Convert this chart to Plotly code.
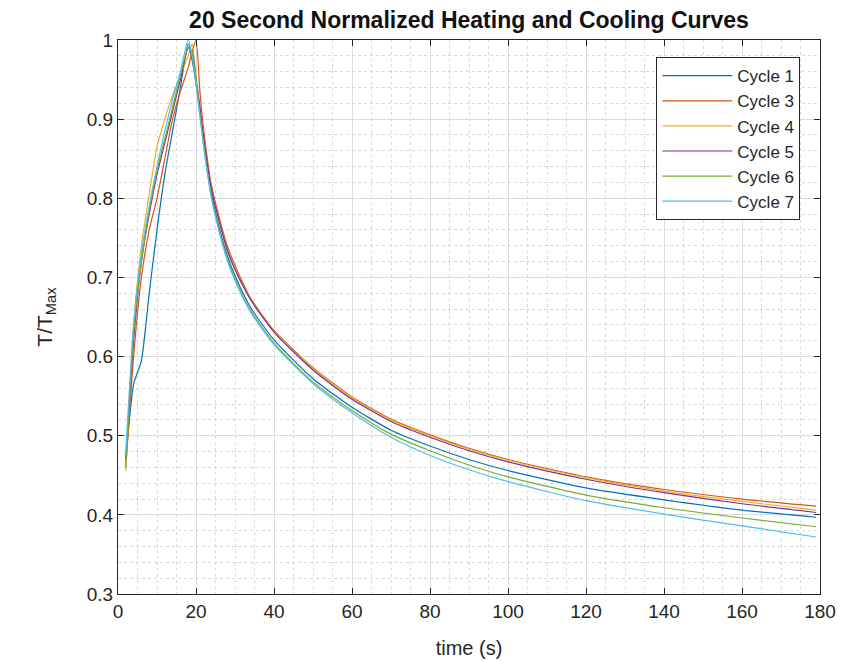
import plotly.graph_objects as go

time_s = [2, 4, 6, 8, 10, 12, 14, 16, 18, 19, 20, 21, 22, 24, 26, 28, 30, 34,
          40, 50, 60, 70, 80, 90, 100, 120, 140, 160, 179]

cycle_1 = [0.470, 0.565, 0.595, 0.680, 0.760, 0.830, 0.885, 0.940, 0.995, 0.975, 0.945, 0.910, 0.870,
           0.805, 0.762, 0.728, 0.702, 0.662, 0.621, 0.572, 0.536, 0.507, 0.487, 0.470, 0.456,
           0.434, 0.419, 0.406, 0.397]
cycle_3 = [0.460, 0.600, 0.700, 0.760, 0.800, 0.850, 0.900, 0.935, 0.965, 0.985, 1.000, 0.935, 0.885,
           0.815, 0.775, 0.740, 0.715, 0.674, 0.633, 0.586, 0.549, 0.521, 0.501, 0.484, 0.470,
           0.448, 0.432, 0.420, 0.411]
cycle_4 = [0.455, 0.640, 0.740, 0.805, 0.865, 0.900, 0.930, 0.955, 0.980, 0.995, 0.955, 0.915, 0.875,
           0.810, 0.770, 0.735, 0.710, 0.673, 0.632, 0.585, 0.548, 0.520, 0.500, 0.483, 0.469,
           0.447, 0.430, 0.417, 0.406]
cycle_5 = [0.470, 0.620, 0.720, 0.780, 0.830, 0.870, 0.910, 0.950, 0.990, 0.985, 0.950, 0.915, 0.875,
           0.810, 0.770, 0.735, 0.710, 0.672, 0.631, 0.583, 0.546, 0.518, 0.498, 0.481, 0.467,
           0.445, 0.428, 0.414, 0.403]
cycle_6 = [0.460, 0.630, 0.720, 0.785, 0.835, 0.875, 0.915, 0.955, 0.990, 0.985, 0.950, 0.905, 0.865,
           0.800, 0.758, 0.724, 0.698, 0.658, 0.617, 0.568, 0.532, 0.502, 0.481, 0.463, 0.448,
           0.425, 0.409, 0.396, 0.385]
cycle_7 = [0.480, 0.640, 0.730, 0.790, 0.840, 0.885, 0.925, 0.960, 1.000, 0.980, 0.945, 0.905, 0.865,
           0.800, 0.757, 0.722, 0.696, 0.656, 0.615, 0.566, 0.529, 0.498, 0.475, 0.457, 0.442,
           0.418, 0.401, 0.386, 0.372]

series_names = ["Cycle 1", "Cycle 3", "Cycle 4", "Cycle 5", "Cycle 6", "Cycle 7"]
series_values = [cycle_1, cycle_3, cycle_4, cycle_5, cycle_6, cycle_7]
series_colors = ["#0072BD", "#D95319", "#EDB120", "#7E2F8E", "#77AC30", "#4DBEEE"]

x_ticks = [0, 20, 40, 60, 80, 100, 120, 140, 160, 180]
y_ticks = [0.3, 0.4, 0.5, 0.6, 0.7, 0.8, 0.9, 1.0]
y_tick_text = ["0.3", "0.4", "0.5", "0.6", "0.7", "0.8", "0.9", "1"]

FONT = "Liberation Sans, Arial, sans-serif"
AX = "#262626"

fig = go.Figure()
for name, vals, col in zip(series_names, series_values, series_colors):
    fig.add_trace(go.Scatter(x=time_s, y=vals, name=name, mode="lines",
                             line=dict(color=col, width=1.2, shape="spline", smoothing=0.6)))

axis_common = dict(showline=True, linecolor=AX, linewidth=1, mirror="ticks",
                   ticks="inside", ticklen=6, tickcolor=AX, tickwidth=1,
                   showgrid=True, gridcolor="#dcdcdc", gridwidth=1, zeroline=False,
                   automargin=False,
                   tickfont=dict(family=FONT, size=19, color=AX))

fig.update_xaxes(range=[0, 180], tickvals=x_ticks,
                 title=dict(text="time (s)", font=dict(family=FONT, size=20, color=AX), standoff=20),
                 minor=dict(dtick=5, showgrid=True, griddash="dot", gridcolor="#d8d8d8", ticks=""),
                 **axis_common)
fig.update_yaxes(range=[0.3, 1.0], tickvals=y_ticks, ticktext=y_tick_text,
                 title=dict(text="T/T<sub>Max</sub>", font=dict(family=FONT, size=21, color=AX), standoff=28),
                 minor=dict(dtick=0.02, showgrid=True, griddash="dot", gridcolor="#d8d8d8", ticks=""),
                 **axis_common)

fig.update_layout(
    width=848, height=661,
    margin=dict(l=110, r=36, t=32, b=75),
    paper_bgcolor="white", plot_bgcolor="white",
    title=dict(text="<b>20 Second Normalized Heating and Cooling Curves</b>",
               font=dict(family=FONT, size=23, color="#111111"),
               x=0.5, xref="paper", xanchor="center", y=0.982, yanchor="middle"),
    legend=dict(x=0.972, y=0.969, xanchor="right", yanchor="top",
                bgcolor="white", bordercolor=AX, borderwidth=1,
                font=dict(family=FONT, size=17, color=AX),
                tracegroupgap=0, itemwidth=70),
    showlegend=True,
)

fig.write_html("out.html")
